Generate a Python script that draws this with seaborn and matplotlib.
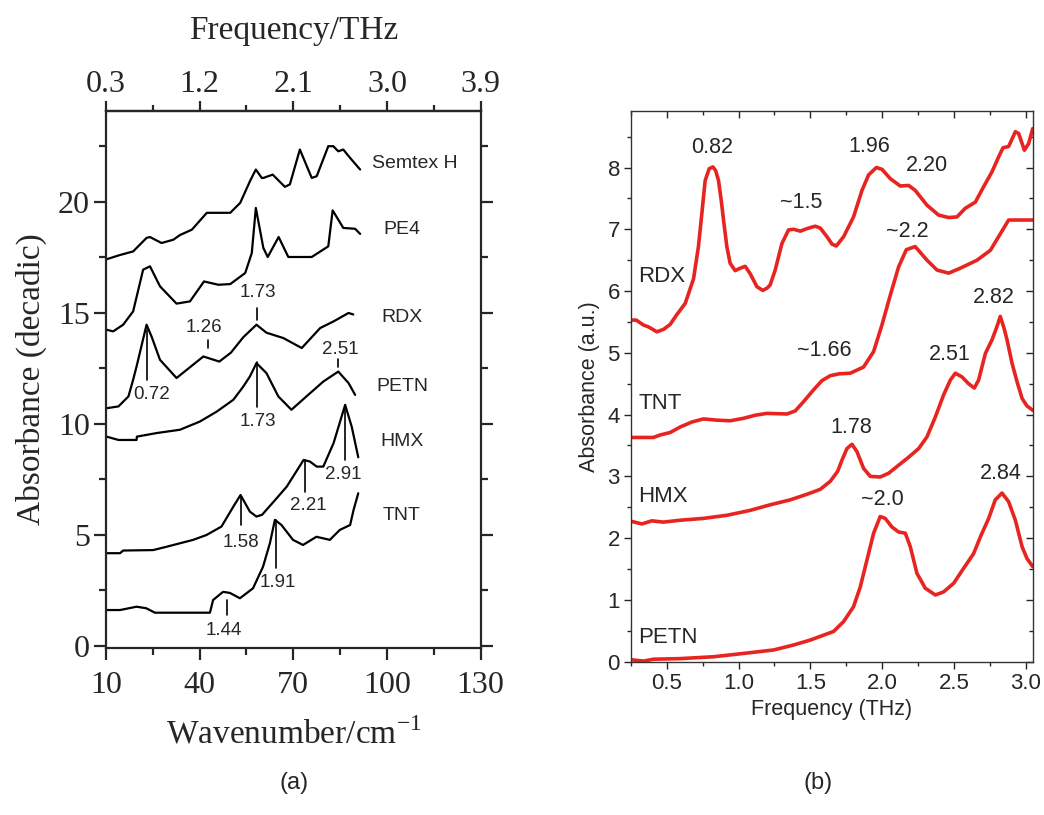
import numpy as np
import pandas as pd
import matplotlib
matplotlib.use("Agg")
import matplotlib.pyplot as plt
import seaborn as sns

sns.set_style("ticks")
plt.rcParams["font.family"] = ["Liberation Sans", "DejaVu Sans"]

# ---------------- Panel (a) data: wavenumber (cm-1) / absorbance ----------------
semtex_w = [10, 14.5, 18.7, 23.0, 24.1, 27.8, 31.6, 33.7, 37.5, 42.3, 49.8, 53.0, 56.1, 58.0, 59.9, 60.4,
            63.4, 67.3, 68.9, 72.1, 75.9, 77.5, 81.2, 82.8, 84.4, 86.0, 88.2, 91.4]
semtex_a = [17.4, 17.6, 17.76, 18.37, 18.41, 18.14, 18.29, 18.5, 18.74, 19.5, 19.5, 19.95, 20.92, 21.45, 21.07, 21.07,
            21.22, 20.67, 20.78, 22.35, 21.07, 21.15, 22.5, 22.5, 22.27, 22.35, 21.97, 21.45]

pe4_w = [10, 12.3, 15.5, 18.7, 21.9, 24.1, 27.3, 32.6, 36.9, 41.4, 46.0, 49.8, 54.6, 56.7, 58.0, 60.4,
         61.8, 65.3, 68.4, 75.9, 81.2, 82.6, 86.0, 89.8, 91.4]
pe4_a = [14.24, 14.16, 14.46, 15.06, 16.94, 17.09, 16.19, 15.41, 15.51, 16.41, 16.26, 16.29, 16.79, 17.69, 19.72, 17.92,
         17.51, 18.41, 17.51, 17.51, 17.99, 19.61, 18.82, 18.78, 18.55]

rdx_w = [10.2, 14.0, 17.2, 18.7, 19.8, 23.0, 24.6, 27.3, 32.6, 41.2, 46.3, 50.0, 54.0, 58.2, 61.4, 66.8,
         72.7, 78.6, 82.9, 87.7, 89.2]
rdx_a = [10.70, 10.78, 11.23, 11.98, 12.58, 14.46, 13.93, 12.88, 12.06, 13.03, 12.80, 13.20, 13.90, 14.46, 14.10, 13.86,
         13.41, 14.31, 14.61, 14.99, 14.92]

petn_w = [10.2, 14.0, 19.8, 19.9, 26.2, 33.7, 40.1, 45.5, 50.8, 54.0, 56.1, 58.2, 61.4, 65.2, 69.4, 74.2,
          79.6, 84.4, 87.7, 89.8]
petn_a = [9.42, 9.27, 9.27, 9.42, 9.58, 9.73, 10.10, 10.55, 11.08, 11.68, 12.13, 12.73, 12.28, 11.23, 10.63, 11.23,
          11.90, 12.35, 11.83, 11.30]

hmx_w = [10.2, 14.5, 15.5, 25.1, 29.4, 37.9, 42.2, 47.0, 50.8, 53.1, 56.1, 58.2, 60.0, 64.7, 67.9, 73.3,
         75.3, 77.5, 79.6, 82.9, 86.6, 88.7, 90.8]
hmx_a = [4.17, 4.17, 4.29, 4.31, 4.46, 4.77, 4.99, 5.37, 6.27, 6.79, 6.04, 5.82, 5.90, 6.65, 7.17, 8.37,
         8.30, 8.07, 8.07, 9.13, 10.85, 9.87, 8.49]

tnt_w = [10.2, 14.5, 19.8, 22.9, 25.7, 43.3, 44.3, 47.5, 49.7, 52.9, 57.1, 60.3, 62.5, 64.1, 66.2, 69.9,
         73.1, 77.4, 81.7, 84.9, 88.2, 89.3, 90.8]
tnt_a = [1.61, 1.61, 1.76, 1.69, 1.49, 1.49, 2.06, 2.43, 2.38, 2.14, 2.59, 3.56, 4.62, 5.67, 5.44, 4.77,
         4.54, 4.91, 4.77, 5.22, 5.44, 6.12, 6.87]

names_a = ["Semtex H", "PE4", "RDX", "PETN", "HMX", "TNT"]
series_a = [(semtex_w, semtex_a), (pe4_w, pe4_a), (rdx_w, rdx_a), (petn_w, petn_a), (hmx_w, hmx_a), (tnt_w, tnt_a)]

# peak annotations (a): label, x, line y-start, line y-end, text x, text y
peaks_a_lab = ["1.73", "1.26", "0.72", "2.51", "1.73", "2.91", "2.21", "1.58", "1.91", "1.44"]
peaks_a_x = [58.4, 42.7, 23.3, 84.3, 58.4, 86.6, 73.7, 53.2, 64.5, 48.8]
peaks_a_y0 = [15.22, 13.78, 14.23, 12.93, 12.79, 10.85, 8.37, 6.70, 5.67, 2.06]
peaks_a_y1 = [14.68, 13.42, 11.98, 12.57, 10.76, 8.37, 6.93, 5.44, 3.50, 1.38]
peaks_a_tx = [58.7, 41.4, 24.7, 85.0, 58.7, 85.9, 74.7, 53.2, 65.1, 47.8]
peaks_a_ty = [15.9, 14.32, 11.3, 13.33, 10.09, 7.70, 6.34, 4.67, 2.83, 0.71]

top_ticks_w = [10, 40, 70, 100, 130]
top_tick_labels = ["0.3", "1.2", "2.1", "3.0", "3.9"]

# ---------------- Panel (b) data: frequency (THz) / absorbance ----------------
rdx_f = [0.256, 0.286, 0.337, 0.372, 0.430, 0.477, 0.523, 0.570, 0.628, 0.686, 0.720, 0.744, 0.767, 0.795, 0.821,
         0.840, 0.860, 0.880, 0.895, 0.918, 0.941, 0.976, 1.011, 1.046, 1.081, 1.128, 1.169, 1.200, 1.220, 1.255,
         1.302, 1.348, 1.383, 1.430, 1.476, 1.534, 1.569, 1.616, 1.651, 1.681, 1.732, 1.801, 1.860, 1.906, 1.960,
         2.000, 2.057, 2.127, 2.185, 2.231, 2.313, 2.394, 2.464, 2.522, 2.580, 2.650, 2.708, 2.766, 2.812, 2.843,
         2.882, 2.929, 2.952, 2.992, 3.022, 3.050]
rdx_b = [5.53, 5.53, 5.45, 5.42, 5.34, 5.38, 5.46, 5.62, 5.80, 6.20, 6.72, 7.26, 7.79, 7.98, 8.01,
         7.95, 7.79, 7.45, 7.15, 6.72, 6.45, 6.33, 6.37, 6.40, 6.28, 6.07, 6.01, 6.05, 6.10, 6.34,
         6.77, 6.99, 7.00, 6.97, 7.01, 7.05, 7.02, 6.88, 6.76, 6.73, 6.88, 7.20, 7.63, 7.88, 8.00,
         7.97, 7.82, 7.70, 7.71, 7.63, 7.39, 7.23, 7.19, 7.20, 7.34, 7.44, 7.69, 7.93, 8.17, 8.32,
         8.34, 8.58, 8.55, 8.28, 8.39, 8.63]

tnt_f = [0.256, 0.407, 0.453, 0.523, 0.593, 0.674, 0.755, 0.849, 0.941, 1.034, 1.116, 1.197, 1.337, 1.395, 1.453,
         1.522, 1.581, 1.639, 1.700, 1.778, 1.871, 1.941, 1.999, 2.057, 2.115, 2.169, 2.231, 2.313, 2.383, 2.464,
         2.545, 2.662, 2.755, 2.812, 2.882, 3.052]
tnt_b = [3.63, 3.63, 3.67, 3.71, 3.80, 3.88, 3.93, 3.91, 3.90, 3.94, 3.99, 4.02, 4.01, 4.06, 4.21,
         4.40, 4.55, 4.63, 4.66, 4.67, 4.77, 5.02, 5.45, 5.93, 6.39, 6.67, 6.72, 6.50, 6.34, 6.29,
         6.37, 6.50, 6.66, 6.88, 7.15, 7.15]

hmx_f = [0.256, 0.326, 0.395, 0.476, 0.593, 0.755, 0.918, 1.081, 1.220, 1.360, 1.476, 1.569, 1.639, 1.690, 1.720,
         1.755, 1.790, 1.825, 1.871, 1.918, 1.987, 2.045, 2.115, 2.185, 2.255, 2.313, 2.371, 2.429, 2.476, 2.511,
         2.557, 2.603, 2.643, 2.673, 2.720, 2.766, 2.800, 2.824, 2.850, 2.871, 2.906, 2.941, 2.976, 3.010, 3.050]
hmx_b = [2.27, 2.23, 2.28, 2.26, 2.29, 2.32, 2.37, 2.45, 2.54, 2.62, 2.71, 2.79, 2.92, 3.08, 3.26,
         3.45, 3.52, 3.40, 3.13, 3.00, 2.99, 3.05, 3.18, 3.31, 3.45, 3.64, 3.96, 4.32, 4.56, 4.67,
         4.61, 4.50, 4.43, 4.56, 4.99, 5.21, 5.42, 5.59, 5.40, 5.21, 4.83, 4.53, 4.26, 4.14, 4.07]

petn_f = [0.256, 0.337, 0.407, 0.593, 0.825, 1.058, 1.244, 1.383, 1.499, 1.581, 1.662, 1.732, 1.801, 1.848, 1.895,
          1.941, 1.987, 2.022, 2.069, 2.115, 2.162, 2.197, 2.243, 2.301, 2.371, 2.429, 2.499, 2.568, 2.638, 2.685,
          2.743, 2.789, 2.836, 2.882, 2.929, 2.976, 3.010, 3.050]
petn_b = [0.03, 0.01, 0.04, 0.05, 0.08, 0.14, 0.19, 0.27, 0.35, 0.42, 0.49, 0.65, 0.89, 1.21, 1.65,
          2.08, 2.35, 2.32, 2.18, 2.10, 2.08, 1.86, 1.43, 1.19, 1.08, 1.13, 1.27, 1.51, 1.75, 2.02,
          2.32, 2.62, 2.73, 2.59, 2.29, 1.86, 1.67, 1.54]

names_b = ["RDX", "TNT", "HMX", "PETN"]
series_b = [(rdx_f, rdx_b), (tnt_f, tnt_b), (hmx_f, hmx_b), (petn_f, petn_b)]

peaks_b_lab = ["0.82", "1.96", "2.20", "~1.5", "~2.2", "2.82", "~1.66", "2.51", "1.78", "~2.0", "2.84"]
peaks_b_x = [0.818, 1.911, 2.313, 1.434, 2.178, 2.778, 1.599, 2.47, 1.785, 1.999, 2.826]
peaks_b_y = [8.32, 8.34, 8.04, 7.43, 6.96, 5.90, 5.03, 4.97, 3.79, 2.63, 3.04]
labels_b_y = [6.23, 4.18, 2.67, 0.39]

RED = "#e82420"
SERIF = ["Liberation Serif", "DejaVu Serif"]
SANS = ["Liberation Sans", "DejaVu Sans"]

fig = plt.figure(figsize=(10.44, 8.15), dpi=100)
ax1 = fig.add_axes([0.1015, 0.2049, 0.3589, 0.6593])
ax2 = fig.add_axes([0.6044, 0.1881, 0.3848, 0.6761])

# ---------- panel (a) ----------
for name, (w, a) in zip(names_a, series_a):
    df = pd.DataFrame({"w": w, "a": a})
    sns.lineplot(data=df, x="w", y="a", ax=ax1, color="black", lw=1.6, sort=False, estimator=None)

for lab, x, y0, y1, tx, ty in zip(peaks_a_lab, peaks_a_x, peaks_a_y0, peaks_a_y1, peaks_a_tx, peaks_a_ty):
    ax1.plot([x, x], [y0, y1], color="black", lw=1.2)
    ax1.text(tx, ty, lab, ha="center", va="center", fontsize=13.5, family=SANS)

lab_pos_a = [(109.0, 21.71), (104.8, 18.74), (104.8, 14.78), (104.8, 11.68), (104.8, 9.18), (104.8, 5.89)]
for name, (x, y) in zip(names_a, lab_pos_a):
    ax1.text(x, y, name, ha="center", va="center", fontsize=14, family=SANS)

ax1.set_xlim(10, 130)
ax1.set_ylim(-0.1, 24.1)
ax1.set_xticks([10, 40, 70, 100, 130])
ax1.set_xticks([25, 55, 85, 115], minor=True)
ax1.set_yticks([0, 5, 10, 15, 20])
ax1.set_yticks([2.5, 7.5, 12.5, 17.5, 22.5], minor=True)
ax1.tick_params(axis="both", which="major", direction="out", length=8.5, width=1.6, labelsize=23,
                right=True, pad=3)
ax1.tick_params(axis="x", which="major", pad=8)
ax1.tick_params(axis="both", which="minor", direction="out", length=5, width=1.6, right=True)
for lbl in ax1.get_xticklabels() + ax1.get_yticklabels():
    lbl.set_family(SERIF)
for s in ax1.spines.values():
    s.set_linewidth(1.6)
ax1.set_xlabel("Wavenumber/cm$^{\\mathregular{-1}}$", fontsize=24, family=SERIF, labelpad=13)
ax1.set_ylabel("Absorbance (decadic)", fontsize=24, family=SERIF, labelpad=8)

top = ax1.secondary_xaxis("top")
top.set_xticks(top_ticks_w)
top.set_xticklabels(top_tick_labels)
top.set_xticks([25, 55, 85, 115], minor=True)
top.tick_params(which="major", direction="out", length=7.5, width=1.6, labelsize=23, pad=1)
top.tick_params(which="minor", direction="out", length=4, width=1.6)
for lbl in top.get_xticklabels():
    lbl.set_family(SERIF)
top.spines["top"].set_linewidth(1.6)
top.set_xlabel("Frequency/THz", fontsize=24, family=SERIF, labelpad=22)

# ---------- panel (b) ----------
for name, (f, b) in zip(names_b, series_b):
    df = pd.DataFrame({"f": f, "b": b})
    sns.lineplot(data=df, x="f", y="b", ax=ax2, color=RED, lw=2.6, sort=False, estimator=None,
                 solid_joinstyle="round", solid_capstyle="round")

for lab, x, y in zip(peaks_b_lab, peaks_b_x, peaks_b_y):
    ax2.text(x, y, lab, ha="center", va="center", fontsize=15.5, family=SANS)
for name, y in zip(names_b, labels_b_y):
    ax2.text(0.30, y, name, ha="left", va="center", fontsize=16, family=SANS)

ax2.set_xlim(0.25, 3.05)
ax2.set_ylim(0, 8.92)
ax2.set_xticks([0.5, 1.0, 1.5, 2.0, 2.5, 3.0])
ax2.set_xticklabels(["0.5", "1.0", "1.5", "2.0", "2.5", "3.0"])
ax2.set_xticks(np.arange(0.25, 3.05, 0.5), minor=True)
ax2.set_yticks(range(0, 9))
ax2.set_yticks(np.arange(0.5, 8.9, 1.0), minor=True)
ax2.tick_params(axis="both", which="major", direction="out", length=5, width=1.0, labelsize=16, pad=3)
ax2.tick_params(axis="both", which="minor", direction="out", length=3, width=1.0)
for s in ax2.spines.values():
    s.set_linewidth(1.0)
    s.set_color("#333333")
ax2.set_xlabel("Frequency (THz)", fontsize=15.5, labelpad=4)
ax2.set_ylabel("Absorbance (a.u.)", fontsize=15.5, labelpad=5)

tx = ax2.secondary_xaxis("top")
tx.set_xticks([0.5, 1.0, 1.5, 2.0, 2.5, 3.0])
tx.set_xticks(np.arange(0.25, 3.05, 0.5), minor=True)
tx.tick_params(which="major", direction="in", length=5, width=1.0, labeltop=False)
tx.tick_params(which="minor", direction="in", length=3, width=1.0)
tx.spines["top"].set_visible(False)
ty = ax2.secondary_yaxis("right")
ty.set_yticks(range(0, 9))
ty.set_yticks(np.arange(0.5, 8.9, 1.0), minor=True)
ty.tick_params(which="major", direction="in", length=5, width=1.0, labelright=False)
ty.tick_params(which="minor", direction="in", length=3, width=1.0)
ty.spines["right"].set_visible(False)

fig.text(294 / 1044, 1 - 783 / 815, "(a)", ha="center", va="center", fontsize=17, family=SANS)
fig.text(818 / 1044, 1 - 783 / 815, "(b)", ha="center", va="center", fontsize=17, family=SANS)

fig.savefig("out.png", dpi=100)
